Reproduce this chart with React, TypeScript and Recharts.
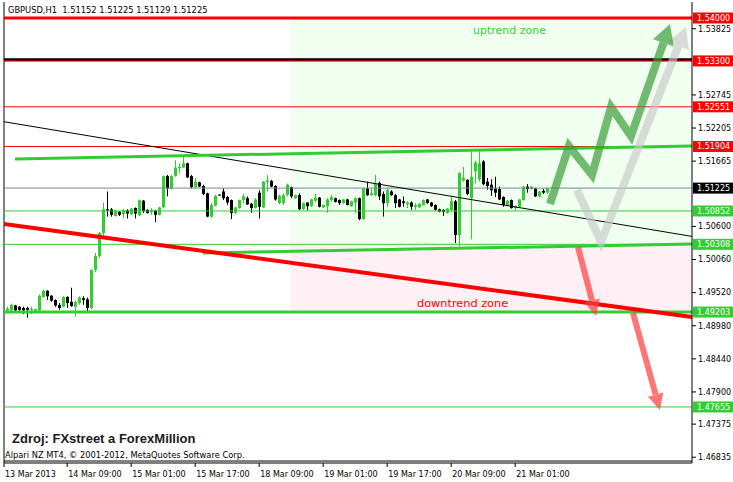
import React from 'react';
import { ComposedChart, Bar, Line, XAxis, YAxis, ReferenceLine, ReferenceArea } from 'recharts';

// GBPUSD H1 candles (index 0 = first visible bar)
const opens = [
  1.4923, 1.4923, 1.4931, 1.4929, 1.4927, 1.4927, 1.4924, 1.4921, 1.4923, 1.4945,
  1.4955, 1.4947, 1.4940, 1.4932, 1.4929, 1.4945, 1.4937, 1.4929, 1.4935, 1.4943,
  1.4941, 1.4927, 1.4989, 1.5012, 1.5049, 1.5088, 1.5088, 1.5077, 1.5084, 1.5080,
  1.5086, 1.5080, 1.5090, 1.5078, 1.5102, 1.5087, 1.5083, 1.5086, 1.5079, 1.5091,
  1.5142, 1.5122, 1.5142, 1.5155, 1.5156, 1.5163, 1.5142, 1.5124, 1.5132, 1.5126,
  1.5114, 1.5076, 1.5094, 1.5112, 1.5117, 1.5108, 1.5103, 1.5082, 1.5090, 1.5103,
  1.5106, 1.5097, 1.5090, 1.5115, 1.5091, 1.5132, 1.5134, 1.5126, 1.5098, 1.5098,
  1.5111, 1.5124, 1.5106, 1.5111, 1.5088, 1.5099, 1.5093, 1.5102, 1.5107, 1.5091,
  1.5093, 1.5103, 1.5106, 1.5103, 1.5098, 1.5104, 1.5093, 1.5099, 1.5106, 1.5072,
  1.5122, 1.5111, 1.5111, 1.5131, 1.5113, 1.5098, 1.5117, 1.5111, 1.5104, 1.5101,
  1.5096, 1.5099, 1.5092, 1.5091, 1.5095, 1.5104, 1.5099, 1.5095, 1.5088, 1.5087,
  1.5082, 1.5087, 1.5101, 1.5046, 1.5135, 1.5136, 1.5106, 1.5150, 1.5137, 1.5166,
  1.5133, 1.5128, 1.5122, 1.5121, 1.5108, 1.5095, 1.5103, 1.5090, 1.5092, 1.5103,
  1.5125, 1.5121, 1.5122, 1.5109, 1.5118, 1.51152,
];
const highs = [
  1.4929, 1.4934, 1.4932, 1.4930, 1.4929, 1.4929, 1.4929, 1.4926, 1.4949, 1.4957,
  1.4956, 1.4948, 1.4941, 1.4935, 1.4946, 1.4946, 1.4960, 1.4939, 1.4946, 1.4946,
  1.4944, 1.4990, 1.5017, 1.5051, 1.5099, 1.5117, 1.5090, 1.5087, 1.5085, 1.5088,
  1.5088, 1.5090, 1.5091, 1.5104, 1.5103, 1.5088, 1.5090, 1.5087, 1.5092, 1.5143,
  1.5144, 1.5144, 1.5168, 1.5163, 1.5174, 1.5164, 1.5144, 1.5139, 1.5133, 1.5128,
  1.5115, 1.5098, 1.5111, 1.5112, 1.5122, 1.5110, 1.5104, 1.5092, 1.5104, 1.5113,
  1.5109, 1.5098, 1.5106, 1.5119, 1.5134, 1.5144, 1.5136, 1.5127, 1.5112, 1.5114,
  1.5130, 1.5125, 1.5112, 1.5114, 1.5099, 1.5099, 1.5105, 1.5113, 1.5108, 1.5096,
  1.5106, 1.5111, 1.5107, 1.5104, 1.5105, 1.5105, 1.5102, 1.5107, 1.5107, 1.5123,
  1.5133, 1.5122, 1.5144, 1.5133, 1.5117, 1.5122, 1.5119, 1.5113, 1.5105, 1.5109,
  1.5101, 1.5101, 1.5098, 1.5098, 1.5104, 1.5105, 1.5100, 1.5096, 1.5089, 1.5088,
  1.5090, 1.5110, 1.5103, 1.5149, 1.5157, 1.5137, 1.5186, 1.5167, 1.5185, 1.5168,
  1.5139, 1.5137, 1.5141, 1.5125, 1.5109, 1.5103, 1.5104, 1.5094, 1.5105, 1.5126,
  1.5129, 1.5126, 1.5123, 1.5118, 1.5121, 1.51225,
];
const lows = [
  1.4920, 1.4921, 1.4921, 1.4920, 1.4917, 1.4911, 1.4917, 1.4919, 1.4921, 1.4944,
  1.4940, 1.4937, 1.4929, 1.4924, 1.4928, 1.4927, 1.4929, 1.4913, 1.4932, 1.4932,
  1.4921, 1.4925, 1.4985, 1.5008, 1.5043, 1.5076, 1.5076, 1.5076, 1.5077, 1.5073,
  1.5073, 1.5078, 1.5073, 1.5077, 1.5082, 1.5081, 1.5079, 1.5067, 1.5078, 1.5090,
  1.5109, 1.5120, 1.5141, 1.5147, 1.5155, 1.5139, 1.5122, 1.5122, 1.5124, 1.5111,
  1.5075, 1.5074, 1.5093, 1.5110, 1.5103, 1.5095, 1.5072, 1.5080, 1.5089, 1.5098,
  1.5095, 1.5082, 1.5089, 1.5073, 1.5090, 1.5117, 1.5124, 1.5102, 1.5096, 1.5095,
  1.5109, 1.5106, 1.5105, 1.5087, 1.5087, 1.5086, 1.5092, 1.5100, 1.5091, 1.5090,
  1.5082, 1.5100, 1.5099, 1.5095, 1.5097, 1.5094, 1.5092, 1.5082, 1.5070, 1.5071,
  1.5110, 1.5110, 1.5109, 1.5103, 1.5076, 1.5092, 1.5110, 1.5090, 1.5091, 1.5092,
  1.5090, 1.5087, 1.5087, 1.5090, 1.5094, 1.5097, 1.5092, 1.5086, 1.5083, 1.5077,
  1.5081, 1.5084, 1.5033, 1.5027, 1.5133, 1.5111, 1.5039, 1.5130, 1.5133, 1.5127,
  1.5120, 1.5110, 1.5108, 1.5103, 1.5092, 1.5094, 1.5089, 1.5086, 1.5091, 1.5102,
  1.5115, 1.5120, 1.5108, 1.5108, 1.5113, 1.51129,
];
const closes = [
  1.4926, 1.4932, 1.4923, 1.4924, 1.4923, 1.4924, 1.4926, 1.4925, 1.4947, 1.4955,
  1.4946, 1.4939, 1.4931, 1.4927, 1.4945, 1.4935, 1.4930, 1.4937, 1.4944, 1.4940,
  1.4927, 1.4989, 1.5012, 1.5049, 1.5088, 1.5086, 1.5079, 1.5086, 1.5079, 1.5087,
  1.5081, 1.5089, 1.5081, 1.5103, 1.5085, 1.5082, 1.5087, 1.5079, 1.5091, 1.5142,
  1.5122, 1.5142, 1.5156, 1.5157, 1.5163, 1.5140, 1.5124, 1.5133, 1.5125, 1.5113,
  1.5076, 1.5095, 1.5110, 1.5111, 1.5106, 1.5099, 1.5082, 1.5091, 1.5103, 1.5109,
  1.5096, 1.5090, 1.5104, 1.5092, 1.5133, 1.5135, 1.5125, 1.5104, 1.5110, 1.5111,
  1.5128, 1.5109, 1.5111, 1.5088, 1.5098, 1.5093, 1.5104, 1.5107, 1.5092, 1.5095,
  1.5104, 1.5108, 1.5100, 1.5098, 1.5104, 1.5095, 1.5101, 1.5106, 1.5072, 1.5122,
  1.5111, 1.5114, 1.5130, 1.5109, 1.5098, 1.5119, 1.5111, 1.5098, 1.5092, 1.5098,
  1.5099, 1.5092, 1.5095, 1.5097, 1.5103, 1.5098, 1.5093, 1.5087, 1.5084, 1.5084,
  1.5089, 1.5101, 1.5046, 1.5147, 1.5139, 1.5113, 1.5141, 1.5164, 1.5163, 1.5129,
  1.5126, 1.5119, 1.5115, 1.5104, 1.5095, 1.5102, 1.5090, 1.5093, 1.5104, 1.5125,
  1.5121, 1.5125, 1.5109, 1.5117, 1.5115, 1.51225,
];

const timeTicks = [-0.8, 15, 31, 47, 63, 79, 95, 111, 127];
const timeLabels = ['13 Mar 2013', '14 Mar 09:00', '15 Mar 01:00', '15 Mar 17:00', '18 Mar 09:00',
  '19 Mar 01:00', '19 Mar 17:00', '20 Mar 09:00', '21 Mar 01:00'];
const priceTicks = [1.53825, 1.52745, 1.52205, 1.51665, 1.506, 1.5006, 1.4952, 1.4898, 1.4844,
  1.479, 1.47375, 1.46835];

const resistLevels = [1.54, 1.533, 1.52551, 1.51904];
const supportLevels = [1.50852, 1.50308, 1.49203, 1.47655];
const lastPrice = 1.51225;
const blackLevel = 1.53318;

const upperChannel = [{ x: 1.95, y: 1.517 }, { x: 171.2, y: 1.51912 }];
const lowerChannel = [{ x: 48.95, y: 1.50166 }, { x: 171.2, y: 1.50313 }];
const redTrend = [{ x: -0.8, y: 1.5064 }, { x: 171.2, y: 1.49122 }];
const blackTrend = [{ x: -0.8, y: 1.52308 }, { x: 171.2, y: 1.50437 }];

const greenPath = [
  { x: 135.7, y: 1.50966 }, { x: 140.45, y: 1.51912 }, { x: 146.2, y: 1.51439 },
  { x: 150.95, y: 1.52548 }, { x: 155.95, y: 1.52075 }, { x: 164.05, y: 1.53594 },
];
const grayPath = [{ x: 142.45, y: 1.51194 }, { x: 148.45, y: 1.50346 }, { x: 167.85, y: 1.5355 }];
const redPath1 = [{ x: 142.7, y: 1.50264 }, { x: 146.2, y: 1.49392 }];
const redPath2 = [{ x: 156.45, y: 1.49188 }, { x: 162.1, y: 1.47857 }];

const candles = opens.map((o, i) => ({
  x: i, o, h: highs[i], l: lows[i], c: closes[i], range: [lows[i], highs[i]],
}));

const FONT = 'DejaVu Sans';
const X_DOMAIN = [-0.8, 171.2];
const Y_DOMAIN = [1.467407, 1.54261];

const Candle = (props: any) => {
  const { x, y, width, height, payload } = props;
  if (x == null || !payload) return null;
  const { o, h, l, c } = payload;
  const top = Math.min(y, y + height);
  const hgt = Math.abs(height);
  const k = h > l ? hgt / (h - l) : 0;
  const py = (p: number) => top + (h - p) * k;
  const up = c >= o;
  const col = up ? '#32cd32' : '#000000';
  const cx = Math.round(x + width / 2) + 0.5;
  const bTop = py(Math.max(o, c));
  const bBot = py(Math.min(o, c));
  return (
    <g>
      <line x1={cx} x2={cx} y1={top} y2={top + hgt} stroke={col} strokeWidth={1} />
      <rect x={cx - 1.5} y={bTop} width={3} height={Math.max(1, bBot - bTop)} fill={col} />
    </g>
  );
};

const Tag = (props: any) => {
  const { viewBox, price, bg } = props;
  if (!viewBox) return null;
  const x = viewBox.x + viewBox.width + 1;
  const y = viewBox.y;
  return (
    <g>
      <rect x={x} y={y - 5.5} width={40} height={11} fill={bg} />
      <text x={x + 4} y={y + 3} fontSize={8} fontFamily={FONT} fill="#fff">{price.toFixed(5)}</text>
    </g>
  );
};

const TimeTick = (props: any) => {
  const { x, y, payload } = props;
  const idx = timeTicks.indexOf(payload.value);
  return (
    <text x={x + 1} y={y + 8} fontSize={8} fontFamily={FONT} fill="#000">{timeLabels[idx]}</text>
  );
};

const arrowHead = (color: string, opacity: number, len: number, half: number) => (props: any) => {
  const { cx, cy, index, points } = props;
  if (!points || index !== points.length - 1 || index < 1) return <g key={`d${index}`} />;
  const prev = points[index - 1];
  let dx = cx - prev.x;
  let dy = cy - prev.y;
  const d = Math.hypot(dx, dy) || 1;
  dx /= d;
  dy /= d;
  const tx = cx + dx * len;
  const ty = cy + dy * len;
  const nx = -dy;
  const ny = dx;
  return (
    <polygon
      key={`d${index}`}
      points={`${tx},${ty} ${cx + nx * half},${cy + ny * half} ${cx - nx * half},${cy - ny * half}`}
      fill={color}
      fillOpacity={opacity}
    />
  );
};

const fmt = (v: number) => v.toFixed(5);
const last = candles[candles.length - 1];

export default function App() {
  return (
    <div style={{ position: 'absolute', left: 0, top: 0, width: 733, height: 482, background: '#fff' }}>
      <ComposedChart width={733} height={482} data={candles} margin={{ top: 2, right: 0, bottom: 0, left: 4 }}>
        <XAxis
          dataKey="x"
          type="number"
          domain={X_DOMAIN}
          allowDataOverflow
          ticks={timeTicks}
          interval={0}
          height={19}
          tickSize={4}
          tick={<TimeTick />}
          axisLine={{ stroke: '#000' }}
          tickLine={{ stroke: '#000' }}
        />
        <YAxis
          orientation="right"
          type="number"
          domain={Y_DOMAIN}
          allowDataOverflow
          ticks={priceTicks}
          interval={0}
          width={41}
          tickSize={4}
          tickFormatter={fmt}
          tick={{ fontSize: 8, fontFamily: FONT, fill: '#000' }}
          axisLine={{ stroke: '#000' }}
          tickLine={{ stroke: '#000' }}
        />

        <ReferenceArea x1={70.7} x2={171.2} y1={1.50308} y2={1.54} fill="#f0fff0" fillOpacity={1} stroke="none" />
        <ReferenceArea x1={70.7} x2={171.2} y1={1.49203} y2={1.50308} fill="#fff0f5" fillOpacity={1} stroke="none" />

        <ReferenceLine x={X_DOMAIN[0]} stroke="#000" />
        <ReferenceLine y={1.46773} stroke="#000" />

        <ReferenceLine y={blackLevel} stroke="#000" strokeWidth={3} />
        {resistLevels.map((v, i) => (
          <ReferenceLine key={`r${i}`} y={v} stroke="#ff0000" strokeWidth={i === 0 ? 3 : 1}
            label={<Tag price={v} bg="#ff0000" />} />
        ))}
        <ReferenceLine y={lastPrice} stroke="#778899" label={<Tag price={lastPrice} bg="#000000" />} />
        {supportLevels.map((v, i) => (
          <ReferenceLine key={`s${i}`} y={v} stroke="#32cd32" strokeWidth={i === 2 ? 3 : 1}
            label={<Tag price={v} bg="#32cd32" />} />
        ))}

        <ReferenceLine segment={blackTrend} stroke="#000" strokeWidth={1} ifOverflow="visible" />
        <ReferenceLine segment={upperChannel} stroke="#32cd32" strokeWidth={3} ifOverflow="visible" />
        <ReferenceLine segment={lowerChannel} stroke="#32cd32" strokeWidth={3} ifOverflow="visible" />
        <ReferenceLine segment={redTrend} stroke="#ff0000" strokeWidth={4} ifOverflow="visible" />

        <Bar dataKey="range" shape={<Candle />} barSize={3} isAnimationActive={false} />

        <Line data={grayPath} dataKey="y" stroke="#c8c8c8" strokeOpacity={0.65} strokeWidth={8}
          strokeLinejoin="miter" dot={arrowHead('#c8c8c8', 0.65, 20, 11)} activeDot={false} isAnimationActive={false} />
        <Line data={greenPath} dataKey="y" stroke="#3a9e3a" strokeOpacity={0.7} strokeWidth={8}
          strokeLinejoin="miter" dot={arrowHead('#3a9e3a', 0.7, 20, 11)} activeDot={false} isAnimationActive={false} />
        <Line data={redPath1} dataKey="y" stroke="#ff4040" strokeOpacity={0.72} strokeWidth={6}
          dot={arrowHead('#ff4040', 0.72, 16, 8)} activeDot={false} isAnimationActive={false} />
        <Line data={redPath2} dataKey="y" stroke="#ff4040" strokeOpacity={0.72} strokeWidth={6}
          dot={arrowHead('#ff4040', 0.72, 16, 8)} activeDot={false} isAnimationActive={false} />
      </ComposedChart>

      <div style={{ position: 'absolute', left: 8, top: 5, fontFamily: FONT, fontSize: 8.3, lineHeight: '10px', color: '#000', whiteSpace: 'pre' }}>
        {`GBPUSD,H1  ${fmt(last.o)} ${fmt(last.h)} ${fmt(last.l)} ${fmt(last.c)}`}
      </div>
      <div style={{ position: 'absolute', left: 473, top: 24, fontFamily: FONT, fontSize: 11, lineHeight: '14px', color: '#3ccc3c', whiteSpace: 'pre' }}>
        uptrend zone
      </div>
      <div style={{ position: 'absolute', left: 417, top: 297, fontFamily: FONT, fontSize: 11.3, lineHeight: '14px', color: '#ff0000', whiteSpace: 'pre' }}>
        downtrend zone
      </div>
      <div style={{ position: 'absolute', left: 12, top: 431, fontFamily: 'Liberation Sans', fontWeight: 'bold', fontSize: 13, lineHeight: '16px', color: '#1a1a1a', whiteSpace: 'pre' }}>
        Zdroj: FXstreet a ForexMillion
      </div>
      <div style={{ position: 'absolute', left: 5, top: 450, fontFamily: FONT, fontSize: 8.3, lineHeight: '10px', color: '#000', whiteSpace: 'pre' }}>
        Alpari NZ MT4, © 2001-2012, MetaQuotes Software Corp.
      </div>
    </div>
  );
}
